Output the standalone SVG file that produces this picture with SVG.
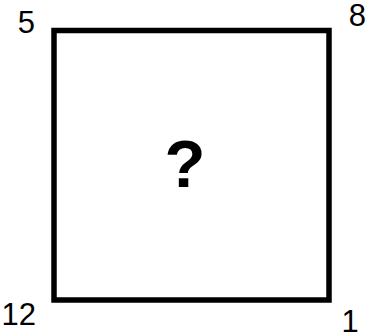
<svg xmlns="http://www.w3.org/2000/svg" width="366" height="335" viewBox="0 0 366 335">
<style>
.lbl{font-family:"Liberation Sans",Arial,sans-serif;font-size:31px;fill:#000}
.q{font-family:"Liberation Sans",Arial,sans-serif;font-size:67px;font-weight:bold;fill:#000}
</style>
<rect width="366" height="335" fill="#fff"/>
<g id="square">
<rect x="54" y="30.5" width="275" height="269.5" fill="none" stroke="#000" stroke-width="5.5"/>
<text class="q" x="185" y="187" text-anchor="middle">?</text>
</g>
<g id="labels">
<text class="lbl" x="17.7" y="33">5</text>
<text class="lbl" x="348.7" y="25.5">8</text>
<text class="lbl" x="1.6" y="325">12</text>
<text class="lbl" x="341.6" y="331.5">1</text>
</g>
</svg>
